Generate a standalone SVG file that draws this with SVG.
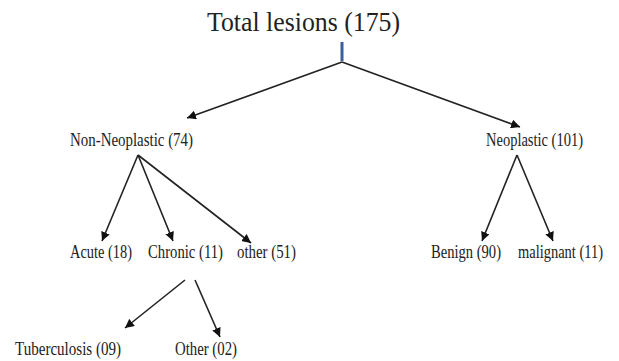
<svg xmlns="http://www.w3.org/2000/svg" width="619" height="361" viewBox="0 0 619 361">
<style>
text{font-family:"Liberation Serif","Times New Roman",serif;fill:#222;}
.t{font-size:19px;}
.c{stroke:#222;stroke-width:1.6;fill:none;marker-end:url(#ah);}
</style>
<defs>
<marker id="ah" viewBox="0 0 10 10" refX="10" refY="5" markerWidth="9" markerHeight="9" markerUnits="userSpaceOnUse" orient="auto">
<path d="M0,0 L10,5 L0,10 z" fill="#111"/>
</marker>
</defs>
<rect width="619" height="361" fill="#fff"/>
<g id="total"><text x="207" y="31" font-size="27" textLength="193" lengthAdjust="spacingAndGlyphs">Total lesions (175)</text></g>
<g id="nonneo"><text class="t" x="70" y="146" textLength="123" lengthAdjust="spacingAndGlyphs">Non-Neoplastic (74)</text></g>
<g id="neo"><text class="t" x="486" y="146" textLength="97" lengthAdjust="spacingAndGlyphs">Neoplastic (101)</text></g>
<g id="acute"><text class="t" x="70" y="258" textLength="62" lengthAdjust="spacingAndGlyphs">Acute (18)</text></g>
<g id="chronic"><text class="t" x="148" y="258" textLength="75" lengthAdjust="spacingAndGlyphs">Chronic (11)</text></g>
<g id="other51"><text class="t" x="237" y="258" textLength="59" lengthAdjust="spacingAndGlyphs">other (51)</text></g>
<g id="benign"><text class="t" x="431" y="258" textLength="70" lengthAdjust="spacingAndGlyphs">Benign (90)</text></g>
<g id="malignant"><text class="t" x="518" y="258" textLength="85" lengthAdjust="spacingAndGlyphs">malignant (11)</text></g>
<g id="tb"><text class="t" x="15" y="355" textLength="106" lengthAdjust="spacingAndGlyphs">Tuberculosis (09)</text></g>
<g id="other02"><text class="t" x="175" y="355" textLength="62" lengthAdjust="spacingAndGlyphs">Other (02)</text></g>
<g id="connectors">
<line x1="342" y1="42" x2="342" y2="61" stroke="#3a5f9a" stroke-width="3"/>
<line class="c" x1="342" y1="62" x2="187" y2="118"/>
<line class="c" x1="342" y1="62" x2="520" y2="127"/>
<line class="c" x1="138" y1="155" x2="102" y2="241"/>
<line class="c" x1="138" y1="155" x2="173" y2="241"/>
<line class="c" x1="138" y1="155" x2="251" y2="243"/>
<line class="c" x1="517" y1="155" x2="482" y2="241"/>
<line class="c" x1="517" y1="155" x2="553" y2="241"/>
<line class="c" x1="185" y1="280" x2="125" y2="328"/>
<line class="c" x1="195" y1="280" x2="220" y2="337"/>
</g>
</svg>
